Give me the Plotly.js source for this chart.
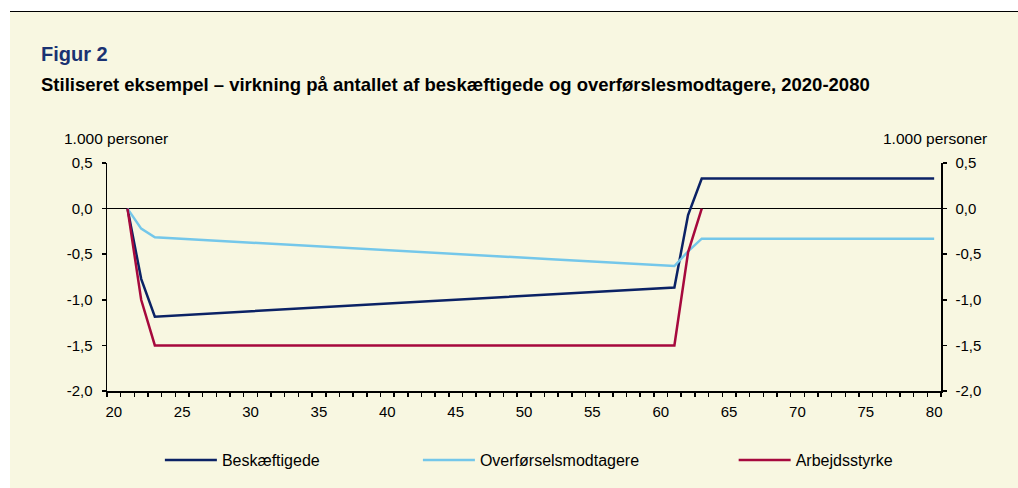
<!DOCTYPE html>
<html>
<head>
<meta charset="utf-8">
<script src="https://cdn.plot.ly/plotly-3.0.1.min.js"></script>
<style>
  html, body { margin: 0; padding: 0; background: #ffffff; }
  #bg { position: absolute; left: 10px; top: 11px; width: 1008px; height: 476px;
        border-top: 1px solid #000; background: #F8F7E1; }
  #chart { position: absolute; left: 0; top: 0; width: 1018px; height: 488px; }
</style>
</head>
<body>
<div id="bg"></div>
<div id="chart"></div>
<script>
// Years (x-axis)
const years = [21,22,23,24,25,26,27,28,29,30,31,32,33,34,35,36,37,38,39,40,
               41,42,43,44,45,46,47,48,49,50,51,52,53,54,55,56,57,58,59,60,
               61,62,63,64,65,66,67,68,69,70,71,72,73,74,75,76,77,78,79,80];

const beskaeftigede = [0,-0.77,-1.185,-1.177,-1.168,-1.160,-1.151,-1.143,-1.135,-1.126,
  -1.118,-1.109,-1.101,-1.092,-1.084,-1.076,-1.067,-1.059,-1.050,-1.042,
  -1.033,-1.025,-1.017,-1.008,-1.000,-0.991,-0.983,-0.975,-0.966,-0.958,
  -0.949,-0.941,-0.932,-0.924,-0.916,-0.907,-0.899,-0.890,-0.882,-0.873,
  -0.865,-0.07,0.33,0.33,0.33,0.33,0.33,0.33,0.33,0.33,
  0.33,0.33,0.33,0.33,0.33,0.33,0.33,0.33,0.33,0.33];

const overfoerselsmodtagere = [0,-0.22,-0.315,-0.323,-0.332,-0.340,-0.348,-0.356,-0.365,-0.373,
  -0.381,-0.390,-0.398,-0.406,-0.414,-0.423,-0.431,-0.439,-0.448,-0.456,
  -0.464,-0.472,-0.481,-0.489,-0.497,-0.506,-0.514,-0.522,-0.531,-0.539,
  -0.547,-0.555,-0.564,-0.572,-0.580,-0.589,-0.597,-0.605,-0.614,-0.622,
  -0.630,-0.47,-0.33,-0.33,-0.33,-0.33,-0.33,-0.33,-0.33,-0.33,
  -0.33,-0.33,-0.33,-0.33,-0.33,-0.33,-0.33,-0.33,-0.33,-0.33];

const arbejdsstyrke = [0,-1.0,-1.5,-1.5,-1.5,-1.5,-1.5,-1.5,-1.5,-1.5,
  -1.5,-1.5,-1.5,-1.5,-1.5,-1.5,-1.5,-1.5,-1.5,-1.5,
  -1.5,-1.5,-1.5,-1.5,-1.5,-1.5,-1.5,-1.5,-1.5,-1.5,
  -1.5,-1.5,-1.5,-1.5,-1.5,-1.5,-1.5,-1.5,-1.5,-1.5,
  -1.5,-0.48,0.0,null,null,null,null,null,null,null,
  null,null,null,null,null,null,null,null,null,null];

const xTickVals = [20,25,30,35,40,45,50,55,60,65,70,75,80];
const yTickVals = [-2.0,-1.5,-1.0,-0.5,0.0,0.5];
const yTickText = ['-2,0','-1,5','-1,0','-0,5','0,0','0,5'];

const seriesNames = ['Beskæftigede','Overførselsmodtagere','Arbejdsstyrke'];
const seriesColors = ['#0B2265','#74C7EA','#A6093D'];

const FONT = 'Liberation Sans, Arial, sans-serif';

const traces = [
  {x: years, y: beskaeftigede, name: seriesNames[0], legend: 'legend',
   mode: 'lines', line: {color: seriesColors[0], width: 2.5}},
  {x: years, y: overfoerselsmodtagere, name: seriesNames[1], legend: 'legend2',
   mode: 'lines', line: {color: seriesColors[1], width: 2.5}},
  {x: years, y: arbejdsstyrke, name: seriesNames[2], legend: 'legend3',
   mode: 'lines', line: {color: seriesColors[2], width: 2.5}},
  {x: [], y: [], yaxis: 'y2', showlegend: false, hoverinfo: 'skip', mode: 'lines'}
];

const legendBase = {orientation: 'h', y: -0.297, yanchor: 'middle', xanchor: 'left',
  bgcolor: 'rgba(0,0,0,0)', borderwidth: 0, itemwidth: 52,
  font: {family: FONT, size: 16, color: '#000'}};

const layout = {
  width: 1018, height: 488,
  paper_bgcolor: 'rgba(0,0,0,0)', plot_bgcolor: 'rgba(0,0,0,0)',
  margin: {l: 107, r: 77, t: 163, b: 96, pad: 0},
  font: {family: FONT, size: 15, color: '#000'},
  xaxis: {range: [19.5, 80.5], tickmode: 'array', tickvals: xTickVals,
    ticks: 'outside', ticklen: 0, showline: true, linecolor: '#000', linewidth: 1.5,
    showgrid: false, zeroline: false, ticklabelstandoff: 6,
    minor: {tickmode: 'linear', tick0: 19.5, dtick: 1, ticks: 'outside', ticklen: 4,
            tickcolor: '#000', tickwidth: 1.5, showgrid: false},
    tickfont: {family: FONT, size: 15, color: '#000'}, fixedrange: true},
  yaxis: {range: [-2, 0.5], tickmode: 'array', tickvals: yTickVals, ticktext: yTickText,
    ticks: 'outside', ticklen: 4, tickwidth: 1.5, tickcolor: '#000',
    showline: true, linecolor: '#000', linewidth: 1.5,
    showgrid: false, zeroline: true, zerolinecolor: '#000', zerolinewidth: 1.2,
    ticklabelstandoff: 6,
    tickfont: {family: FONT, size: 15, color: '#000'}, fixedrange: true},
  yaxis2: {range: [-2, 0.5], overlaying: 'y', side: 'right', anchor: 'x',
    tickmode: 'array', tickvals: yTickVals, ticktext: yTickText,
    ticks: 'outside', ticklen: 4, tickwidth: 1.5, tickcolor: '#000',
    showline: true, linecolor: '#000', linewidth: 1.5,
    showgrid: false, zeroline: false, ticklabelstandoff: 6,
    tickfont: {family: FONT, size: 15, color: '#000'}, fixedrange: true},
  showlegend: true,
  legend: Object.assign({}, legendBase, {x: 0.0634}),
  legend2: Object.assign({}, legendBase, {x: 0.3728}),
  legend3: Object.assign({}, legendBase, {x: 0.7514}),
  annotations: [
    {text: '<b>Figur 2</b>', xref: 'paper', yref: 'paper', x: -0.0815, y: 1.48,
     xanchor: 'left', yanchor: 'middle', showarrow: false,
     font: {family: FONT, size: 20, color: '#1A3272'}},
    {text: '<b>Stiliseret eksempel – virkning på antallet af beskæftigede og overførslesmodtagere, 2020-2080</b>',
     xref: 'paper', yref: 'paper', x: -0.0815, y: 1.345,
     xanchor: 'left', yanchor: 'middle', showarrow: false,
     font: {family: FONT, size: 18.5, color: '#000'}},
    {text: '1.000 personer', xref: 'paper', yref: 'paper', x: 0.0108, y: 1.109,
     xanchor: 'center', yanchor: 'middle', showarrow: false,
     font: {family: FONT, size: 15.5, color: '#000'}},
    {text: '1.000 personer', xref: 'paper', yref: 'paper', x: 0.993, y: 1.109,
     xanchor: 'center', yanchor: 'middle', showarrow: false,
     font: {family: FONT, size: 15.5, color: '#000'}}
  ]
};

Plotly.newPlot('chart', traces, layout, {displayModeBar: false, staticPlot: true});
</script>
</body>
</html>
